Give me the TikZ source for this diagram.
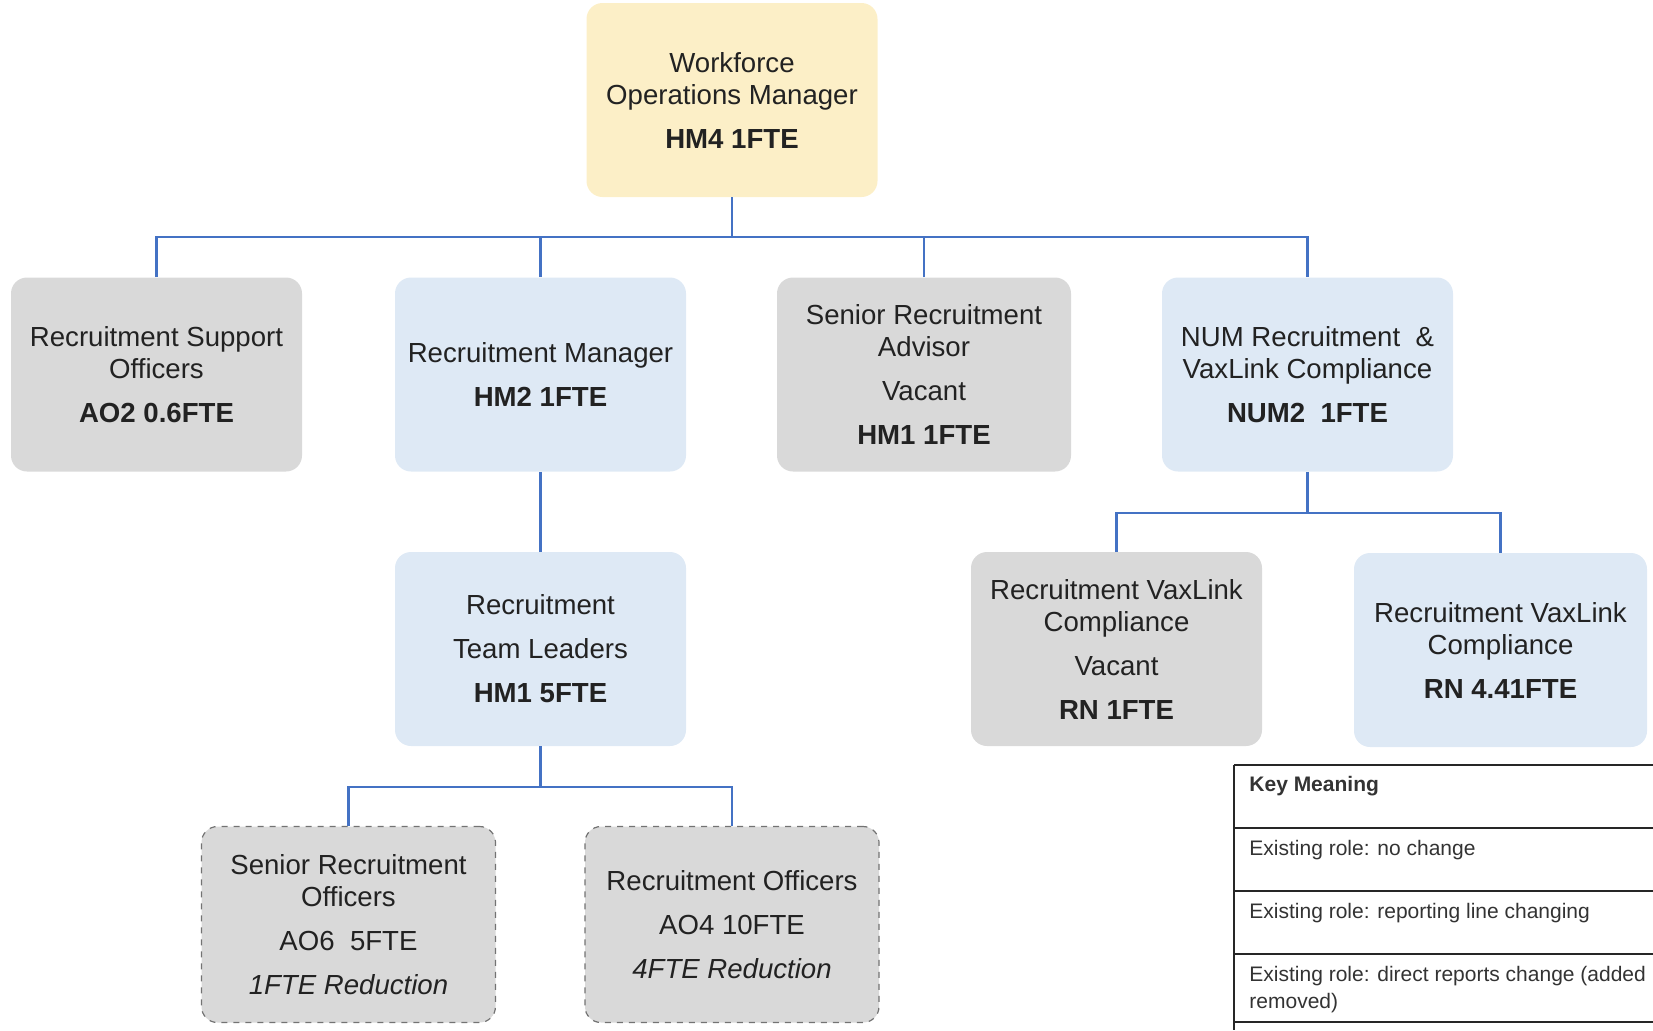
\documentclass[tikz,border=0pt]{standalone}
\usepackage{fontspec}
\setmainfont{Liberation Sans}
\definecolor{ylw}{HTML}{FCEFC7}
\definecolor{lblue}{HTML}{DEE9F5}
\definecolor{lgrey}{HTML}{D9D9D9}
\definecolor{connc}{HTML}{4472C4}
\definecolor{txt}{HTML}{222222}
\begin{document}
\begin{tikzpicture}[x=0.5pt,y=-0.5pt,
 role/.style={rounded corners=8pt, minimum width=145.5pt, minimum height=97pt, align=center,
   font=\fontsize{13.8}{16}\selectfont, text=txt, inner sep=2pt},
 yellowbox/.style={role, fill=ylw},
 bluebox/.style={role, fill=lblue},
 greybox/.style={role, fill=lgrey},
 dashbox/.style={role, fill=lgrey, draw=black!55, dashed, line width=0.6pt, minimum width=147pt, minimum height=98pt},
 link/.style={draw=connc, line width=1.1pt},
 keyline/.style={draw=black!85, line width=1pt},
 keytext/.style={anchor=west, font=\fontsize{10.5}{13.5}\selectfont, text=black!80, align=left, inner sep=0pt}]
\useasboundingbox (0,0) rectangle (1653,1030);

% level 1
\node[yellowbox] (top) at (732,100) {Workforce\\Operations Manager\\[6pt]\textbf{HM4 1FTE}};

% level 2
\node[greybox] (rso) at (156.5,374.5) {Recruitment Support\\Officers\\[6pt]\textbf{AO2 0.6FTE}};
\node[bluebox] (rm) at (540.5,374.5) {Recruitment Manager\\[6pt]\textbf{HM2 1FTE}};
\node[greybox, minimum width=147pt] (sra) at (924,374.5) {Senior Recruitment\\Advisor\\[6pt]Vacant\\[6pt]\textbf{HM1 1FTE}};
\node[bluebox] (num) at (1307.5,374.5) {NUM Recruitment\ \ \&\\VaxLink Compliance\\[6pt]\textbf{NUM2\ \ 1FTE}};

% level 3
\node[bluebox] (rtl) at (540.5,649) {Recruitment\\[6pt]Team Leaders\\[6pt]\textbf{HM1 5FTE}};
\node[greybox] (rvcv) at (1116.5,649) {Recruitment VaxLink\\Compliance\\[6pt]Vacant\\[6pt]\textbf{RN 1FTE}};
\node[bluebox, minimum width=146.5pt] (rvc) at (1500.5,650) {Recruitment VaxLink\\Compliance\\[6pt]\textbf{RN 4.41FTE}};

% level 4
\node[dashbox] (sro) at (348.5,924.5) {Senior Recruitment\\Officers\\[6pt]AO6\ \ 5FTE\\[6pt]\textit{1FTE Reduction}};
\node[dashbox] (ro) at (732,924.5) {Recruitment Officers\\[6pt]AO4 10FTE\\[6pt]\textit{4FTE Reduction}};

% connectors
\coordinate (b1) at (732,237);
\draw[link] (top.south) -- (b1);
\draw[link] (rso.north) |- (b1) -| (num.north);
\draw[link] (rm.north) -- (rm.north |- b1);
\draw[link] (sra.north) -- (sra.north |- b1);
\draw[link] (rm.south) -- (rtl.north);
\coordinate (b2) at (1307.5,513);
\draw[link] (num.south) -- (b2);
\draw[link] (rvcv.north) |- (b2) -| (rvc.north);
\coordinate (b3) at (540.5,787);
\draw[link] (rtl.south) -- (b3);
\draw[link] (sro.north) |- (b3) -| (ro.north);

% key table
\coordinate (kt) at (1234,765);
\coordinate (kb) at (1234,1030);
\draw[keyline] (kt) -- (kb);
\draw[keyline] (kt) -- (1653,765);
\draw[keyline] (1234,828) -- (1653,828);
\draw[keyline] (1234,891) -- (1653,891);
\draw[keyline] (1234,954) -- (1653,954);
\draw[keyline] (1234,1022) -- (1653,1022);
\node[keytext, font=\fontsize{10.5}{13.5}\selectfont\bfseries] (k0) at (1249,786) {Key Meaning};
\node[keytext] (k1) at (1249,850) {Existing role: no change};
\node[keytext] (k2) at (1249,913) {Existing role: reporting line changing};
\node[keytext] (k3) at (1249,989.5) {Existing role: direct reports change (added\\removed)};
\end{tikzpicture}
\end{document}
